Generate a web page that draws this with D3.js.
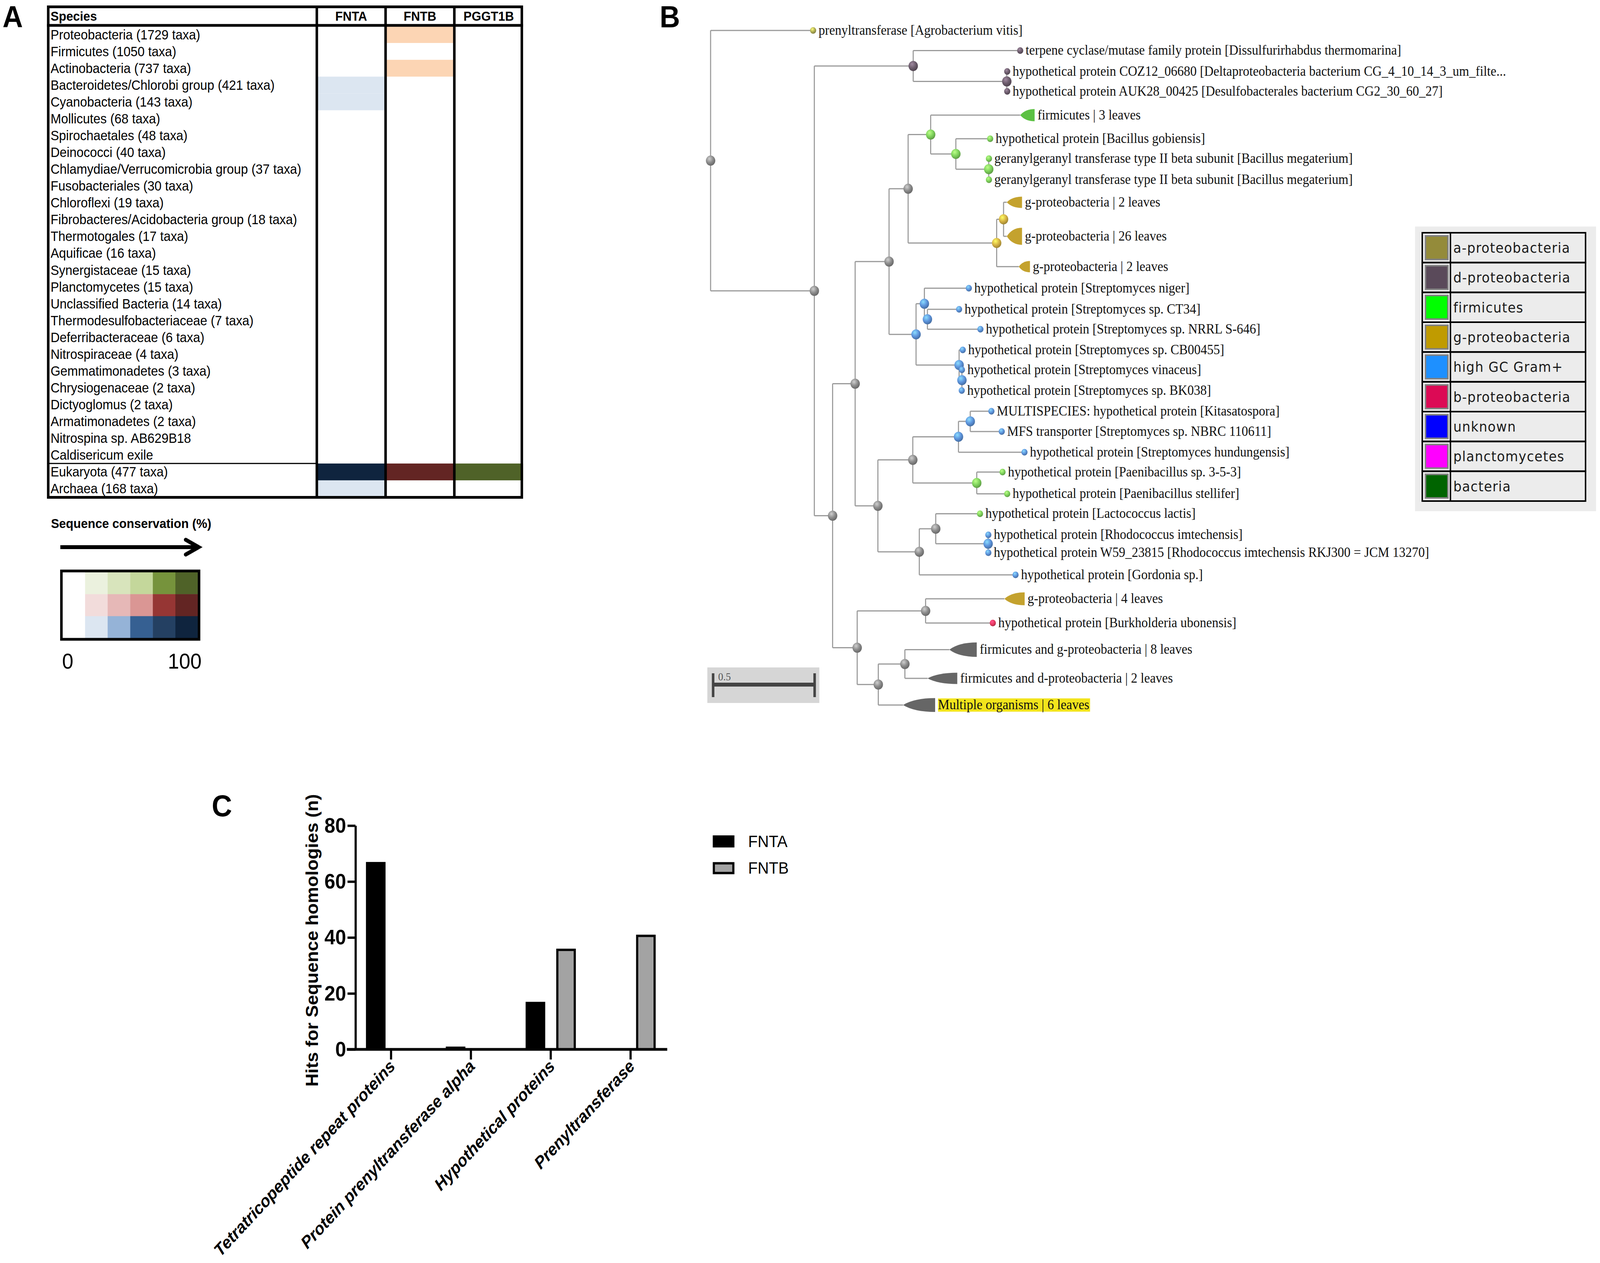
<!DOCTYPE html>
<html>
<head>
<meta charset="utf-8">
<script src="https://cdn.jsdelivr.net/npm/d3@7.9.0/dist/d3.min.js"></script>
<style>
  html, body { margin: 0; padding: 0; background: #fff; width: 100%; height: 100%; overflow: hidden; }
  svg { display: block; width: 100vw; height: 100vh; }
</style>
</head>
<body>
<svg id="fig" viewBox="0 0 4429 3234" preserveAspectRatio="none"></svg>
<script>
const SANS = "'Liberation Sans', Arial, sans-serif";
const SERIF = "'Liberation Serif', 'Times New Roman', serif";

// ---------- Panel A data ----------
const speciesRows = [
    'Proteobacteria (1729 taxa)', 'Firmicutes (1050 taxa)', 'Actinobacteria (737 taxa)',
    'Bacteroidetes/Chlorobi group (421 taxa)', 'Cyanobacteria (143 taxa)', 'Mollicutes (68 taxa)',
    'Spirochaetales (48 taxa)', 'Deinococci (40 taxa)', 'Chlamydiae/Verrucomicrobia group (37 taxa)',
    'Fusobacteriales (30 taxa)', 'Chloroflexi (19 taxa)', 'Fibrobacteres/Acidobacteria group (18 taxa)',
    'Thermotogales (17 taxa)', 'Aquificae (16 taxa)', 'Synergistaceae (15 taxa)', 'Planctomycetes (15 taxa)',
    'Unclassified Bacteria (14 taxa)', 'Thermodesulfobacteriaceae (7 taxa)', 'Deferribacteraceae (6 taxa)',
    'Nitrospiraceae (4 taxa)', 'Gemmatimonadetes (3 taxa)', 'Chrysiogenaceae (2 taxa)', 'Dictyoglomus (2 taxa)',
    'Armatimonadetes (2 taxa)', 'Nitrospina sp. AB629B18', 'Caldisericum exile',
    'Eukaryota (477 taxa)', 'Archaea (168 taxa)'
];
const genes = ['FNTA', 'FNTB', 'PGGT1B'];
// conservation level 0..5 per row
const consFNTA   = [0,0,0,1,1, 0,0,0,0,0, 0,0,0,0,0, 0,0,0,0,0, 0,0,0,0,0, 0, 5,1];
const consFNTB   = [1,0,1,0,0, 0,0,0,0,0, 0,0,0,0,0, 0,0,0,0,0, 0,0,0,0,0, 0, 5,0];
const consPGGT1B = [0,0,0,0,0, 0,0,0,0,0, 0,0,0,0,0, 0,0,0,0,0, 0,0,0,0,0, 0, 5,0];

const greenRamp = ['#ffffff', '#ebf1de', '#d8e4bc', '#c4d79b', '#76933c', '#4f6228'];
const redRamp   = ['#ffffff', '#f2dcdb', '#e6b8b7', '#da9694', '#963634', '#632523'];
const blueRamp  = ['#ffffff', '#dce6f1', '#95b3d7', '#366092', '#244062', '#0f243e'];
const fntbLight = '#fcd5b4';

// ---------- Panel B data ----------
const groupKeys   = ['a', 'd', 'f', 'g', 'gc', 'b', 'u', 'p', 'bac'];
const groupNames  = ['a-proteobacteria', 'd-proteobacteria', 'firmicutes', 'g-proteobacteria',
                     'high GC Gram+', 'b-proteobacteria', 'unknown', 'planctomycetes', 'bacteria'];
const groupColors = ['#948b3a', '#5a4a5a', '#00ff00', '#c09b00', '#1e90ff', '#dc0a55', '#0000ff', '#ff00ff', '#006400'];
const nodeColors  = { n: '#8c8c8c', a: '#b0ad55', d: '#6d5d6d', f: '#7fd35c', g: '#d6b344', gc: '#5e95dd', b: '#ea3a62' };
const wedgeColors = { n: '#666666', f: '#5cc143', g: '#c4a22e' };

// d = distance from root (substitutions/site), row = leaf row, span = collapsed clade depth
const treeData = { d: 0, g: 'n', children: [
    { d: 0.505, g: 'a', row: 0, label: 'prenyltransferase [Agrobacterium vitis]' },
    { d: 0.511, g: 'n', children: [
        { d: 0.998, g: 'd', children: [
            { d: 1.525, g: 'd', row: 0.98, label: 'terpene cyclase/mutase family protein [Dissulfurirhabdus thermomarina]' },
            { d: 1.459, g: 'd', children: [
                { d: 1.461, g: 'd', row: 2.0, label: 'hypothetical protein COZ12_06680 [Deltaproteobacteria bacterium CG_4_10_14_3_um_filte...' },
                { d: 1.461, g: 'd', row: 2.97, label: 'hypothetical protein AUK28_00425 [Desulfobacterales bacterium CG2_30_60_27]' }
            ] }
        ] },
        { d: 0.601, g: 'n', children: [
            { d: 0.712, g: 'n', children: [
                { d: 0.879, g: 'n', children: [
                    { d: 0.973, g: 'n', children: [
                        { d: 1.084, g: 'f', children: [
                            { d: 1.525, g: 'f', row: 4.13, leaves: 3, span: 0.071, label: 'firmicutes | 3 leaves' },
                            { d: 1.208, g: 'f', children: [
                                { d: 1.377, g: 'f', row: 5.28, label: 'hypothetical protein [Bacillus gobiensis]' },
                                { d: 1.370, g: 'f', children: [
                                    { d: 1.371, g: 'f', row: 6.25, label: 'geranylgeranyl transferase type II beta subunit [Bacillus megaterium]' },
                                    { d: 1.371, g: 'f', row: 7.28, label: 'geranylgeranyl transferase type II beta subunit [Bacillus megaterium]' }
                                ] }
                            ] }
                        ] },
                        { d: 1.409, g: 'g', children: [
                            { d: 1.443, g: 'g', children: [
                                { d: 1.459, g: 'g', row: 8.38, leaves: 2, span: 0.075, label: 'g-proteobacteria | 2 leaves' },
                                { d: 1.459, g: 'g', row: 10.04, leaves: 26, span: 0.075, label: 'g-proteobacteria | 26 leaves' }
                            ] },
                            { d: 1.518, g: 'g', row: 11.52, leaves: 2, span: 0.055, label: 'g-proteobacteria | 2 leaves' }
                        ] }
                    ] },
                    { d: 1.012, g: 'gc', children: [
                        { d: 1.053, g: 'gc', children: [
                            { d: 1.272, g: 'gc', row: 12.57, label: 'hypothetical protein [Streptomyces niger]' },
                            { d: 1.068, g: 'gc', children: [
                                { d: 1.224, g: 'gc', row: 13.6, label: 'hypothetical protein [Streptomyces sp. CT34]' },
                                { d: 1.329, g: 'gc', row: 14.57, label: 'hypothetical protein [Streptomyces sp. NRRL S-646]' }
                            ] }
                        ] },
                        { d: 1.224, g: 'gc', children: [
                            { d: 1.242, g: 'gc', row: 15.58, label: 'hypothetical protein [Streptomyces sp. CB00455]' },
                            { d: 1.238, g: 'gc', children: [
                                { d: 1.238, g: 'gc', row: 16.55, label: 'hypothetical protein [Streptomyces vinaceus]' },
                                { d: 1.237, g: 'gc', row: 17.56, label: 'hypothetical protein [Streptomyces sp. BK038]' }
                            ] }
                        ] }
                    ] }
                ] },
                { d: 0.824, g: 'n', children: [
                    { d: 0.996, g: 'n', children: [
                        { d: 1.221, g: 'gc', children: [
                            { d: 1.279, g: 'gc', children: [
                                { d: 1.383, g: 'gc', row: 18.57, label: 'MULTISPECIES: hypothetical protein [Kitasatospora]' },
                                { d: 1.434, g: 'gc', row: 19.56, label: 'MFS transporter [Streptomyces sp. NBRC 110611]' }
                            ] },
                            { d: 1.546, g: 'gc', row: 20.57, label: 'hypothetical protein [Streptomyces hundungensis]' }
                        ] },
                        { d: 1.311, g: 'f', children: [
                            { d: 1.438, g: 'f', row: 21.54, label: 'hypothetical protein [Paenibacillus sp. 3-5-3]' },
                            { d: 1.461, g: 'f', row: 22.6, label: 'hypothetical protein [Paenibacillus stellifer]' }
                        ] }
                    ] },
                    { d: 1.028, g: 'n', children: [
                        { d: 1.109, g: 'n', children: [
                            { d: 1.327, g: 'f', row: 23.57, label: 'hypothetical protein [Lactococcus lactis]' },
                            { d: 1.367, g: 'gc', children: [
                                { d: 1.368, g: 'gc', row: 24.6, label: 'hypothetical protein [Rhodococcus imtechensis]' },
                                { d: 1.368, g: 'gc', row: 25.47, label: 'hypothetical protein W59_23815 [Rhodococcus imtechensis RKJ300 = JCM 13270]' }
                            ] }
                        ] },
                        { d: 1.502, g: 'gc', row: 26.55, label: 'hypothetical protein [Gordonia sp.]' }
                    ] }
                ] }
            ] },
            { d: 0.722, g: 'n', children: [
                { d: 1.059, g: 'n', children: [
                    { d: 1.447, g: 'g', row: 27.72, leaves: 4, span: 0.1, label: 'g-proteobacteria | 4 leaves' },
                    { d: 1.390, g: 'b', row: 28.9, label: 'hypothetical protein [Burkholderia ubonensis]' }
                ] },
                { d: 0.826, g: 'n', children: [
                    { d: 0.957, g: 'n', children: [
                        { d: 1.176, g: 'n', row: 30.2, leaves: 8, span: 0.135, label: 'firmicutes and g-proteobacteria | 8 leaves' },
                        { d: 1.069, g: 'n', row: 31.6, leaves: 2, span: 0.146, label: 'firmicutes and d-proteobacteria | 2 leaves' }
                    ] },
                    { d: 0.948, g: 'n', row: 32.9, leaves: 6, span: 0.158, label: 'Multiple organisms | 6 leaves', highlight: true }
                ] }
            ] }
        ] }
    ] }
] };

// ---------- Panel C data ----------
const hitCategories = ['Tetratricopeptide repeat proteins', 'Protein prenyltransferase alpha', 'Hypothetical proteins', 'Prenyltransferase'];
const hitSeries = ['FNTA', 'FNTB'];
const hitsFNTA = [67, 1, 17, 0];
const hitsFNTB = [0, 0, 36, 41];
const hitTicks = [0, 20, 40, 60, 80];

const svg = d3.select('#fig');
svg.append('rect').attr('width', 4429).attr('height', 3234).attr('fill', '#fff');

// panel letters
[['A', 7, 70], ['B', 1826, 70], ['C', 586, 2090]].forEach(([t, x, y]) => {
    svg.append('text').attr('x', x).attr('y', y).text(t)
        .attr('font-family', SANS).attr('font-weight', 'bold').attr('font-size', 78);
});

// ================= Panel A =================
function renderTable() {
    const g = svg.append('g');
    const yA = d3.scaleBand().domain(d3.range(speciesRows.length)).range([67, 1273]);
    const xA = d3.scaleBand().domain(genes).range([877, 1448]);
    const ramps = { FNTA: blueRamp, FNTB: [redRamp[0], fntbLight, ...redRamp.slice(2)], PGGT1B: greenRamp };
    const levels = { FNTA: consFNTA, FNTB: consFNTB, PGGT1B: consPGGT1B };

    genes.forEach(gene => {
        g.append('g').selectAll('rect')
            .data(levels[gene].map((v, i) => ({ v, i })).filter(d => d.v > 0))
            .join('rect')
            .attr('x', xA(gene))
            .attr('y', d => yA(d.i))
            .attr('width', xA.bandwidth())
            .attr('height', yA.bandwidth())
            .attr('fill', d => ramps[gene][d.v]);
    });

    g.append('g').selectAll('text')
        .data(speciesRows)
        .join('text')
        .attr('x', 140)
        .attr('y', (d, i) => yA(i) + yA.bandwidth() / 2 + 12)
        .attr('font-family', SANS).attr('font-size', 35)
        .text(d => d);

    // header
    g.append('text').attr('x', 140).attr('y', 53).text('Species')
        .attr('font-family', SANS).attr('font-weight', 'bold').attr('font-size', 34);
    g.append('g').selectAll('text')
        .data(genes)
        .join('text')
        .attr('x', d => xA(d) + xA.bandwidth() / 2)
        .attr('y', 53)
        .attr('text-anchor', 'middle')
        .attr('font-family', SANS).attr('font-weight', 'bold').attr('font-size', 34)
        .text(d => d);

    // grid lines
    g.append('line').attr('x1', 133).attr('x2', xA(genes[0])).attr('y1', yA(26)).attr('y2', yA(26))
        .attr('stroke', '#000').attr('stroke-width', 3);
    g.append('line').attr('x1', 130).attr('x2', 1448).attr('y1', 65).attr('y2', 65)
        .attr('stroke', '#000').attr('stroke-width', 7);
    g.append('g').selectAll('line')
        .data(genes)
        .join('line')
        .attr('x1', d => xA(d)).attr('x2', d => xA(d))
        .attr('y1', 14).attr('y2', 1276)
        .attr('stroke', '#000').attr('stroke-width', 7);
    g.append('rect').attr('x', 133.5).attr('y', 17.5).attr('width', 1311).attr('height', 1256)
        .attr('fill', 'none').attr('stroke', '#000').attr('stroke-width', 7);

    // conservation legend
    g.append('text').attr('x', 141).attr('y', 1352).text('Sequence conservation (%)')
        .attr('font-family', SANS).attr('font-weight', 'bold').attr('font-size', 34);
    g.append('line').attr('x1', 167).attr('x2', 548).attr('y1', 1401).attr('y2', 1401)
        .attr('stroke', '#000').attr('stroke-width', 10);
    g.append('path').attr('d', 'M514,1382 L550,1401 L514,1420')
        .attr('fill', 'none').attr('stroke', '#000').attr('stroke-width', 10).attr('stroke-linecap', 'round');

    const legendRamps = [greenRamp, redRamp, blueRamp];
    const lx = d3.scaleBand().domain(d3.range(6)).range([173, 548]);
    const ly = d3.scaleBand().domain(d3.range(3)).range([1465, 1634]);
    legendRamps.forEach((ramp, r) => {
        g.append('g').selectAll('rect')
            .data(ramp)
            .join('rect')
            .attr('x', (d, i) => lx(i))
            .attr('y', ly(r))
            .attr('width', lx.bandwidth() + 0.5)
            .attr('height', ly.bandwidth() + 0.5)
            .attr('fill', d => d);
    });
    g.append('rect').attr('x', 170).attr('y', 1462).attr('width', 381).attr('height', 175)
        .attr('fill', 'none').attr('stroke', '#000').attr('stroke-width', 7);
    g.append('text').attr('x', 172).attr('y', 1712).text('0')
        .attr('font-family', SANS).attr('font-size', 56);
    g.append('text').attr('x', 558).attr('y', 1712).attr('text-anchor', 'end').text('100')
        .attr('font-family', SANS).attr('font-size', 56);
}

// ================= Panel B =================
function renderTree() {
    const g = svg.append('g');
    const xT = d3.scaleLinear().domain([0, 0.5]).range([1967, 2248]);
    const yT = d3.scaleLinear().domain([0, 1]).range([78, 130.5]);

    const root = d3.hierarchy(treeData);
    root.eachAfter(n => {
        n.px = xT(n.data.d);
        if (n.children) {
            n.py = (n.children[0].py + n.children[n.children.length - 1].py) / 2;
        } else {
            n.py = yT(n.data.row);
        }
    });

    // sphere gradients
    const defs = svg.append('defs');
    Object.entries(nodeColors).forEach(([k, c]) => {
        const grad = defs.append('radialGradient').attr('id', 'sph-' + k)
            .attr('cx', '38%').attr('cy', '32%').attr('r', '70%');
        grad.append('stop').attr('offset', '0%').attr('stop-color', d3.color(c).brighter(1.1));
        grad.append('stop').attr('offset', '55%').attr('stop-color', c);
        grad.append('stop').attr('offset', '100%').attr('stop-color', d3.color(c).darker(0.9));
    });

    // branches (rectangular)
    const links = g.append('g').attr('fill', 'none').attr('stroke', '#9a9a9a').attr('stroke-width', 3);
    root.descendants().filter(n => n.children).forEach(n => {
        const ys = n.children.map(c => c.py);
        links.append('line').attr('x1', n.px).attr('x2', n.px)
            .attr('y1', d3.min(ys)).attr('y2', d3.max(ys));
        n.children.forEach(c => {
            links.append('line').attr('x1', n.px).attr('x2', c.px).attr('y1', c.py).attr('y2', c.py);
        });
    });

    // collapsed clades
    const wedges = root.leaves().filter(n => n.data.leaves);
    g.append('g').selectAll('path')
        .data(wedges)
        .join('path')
        .attr('d', n => {
            const w = xT(n.data.d + n.data.span) - n.px;
            const h = 25 + 4 * Math.log2(n.data.leaves);
            const x0 = n.px, y0 = n.py;
            return `M${x0},${y0} Q${x0 + w * 0.35},${y0 - h / 2} ${x0 + w},${y0 - h / 2} ` +
                `L${x0 + w},${y0 + h / 2} Q${x0 + w * 0.35},${y0 + h / 2} ${x0},${y0} Z`;
        })
        .attr('fill', n => wedgeColors[n.data.g]);

    // nodes
    g.append('g').selectAll('circle')
        .data(root.descendants().filter(n => !n.data.leaves))
        .join('circle')
        .attr('cx', n => n.px)
        .attr('cy', n => n.py)
        .attr('r', n => n.children ? 13 : 8.5)
        .attr('fill', n => `url(#sph-${n.data.g})`);

    // labels
    const labelX = n => n.data.leaves ? xT(n.data.d + n.data.span) + 8 : n.px + 15;
    const labels = g.append('g').selectAll('text')
        .data(root.leaves())
        .join('text')
        .attr('x', labelX)
        .attr('y', n => n.py + 11)
        .attr('font-family', SERIF).attr('font-size', 35.7)
        .attr('fill', '#111')
        .text(n => n.data.label);
    labels.filter(n => n.data.highlight).each(function (n) {
        const bb = this.getBBox();
        d3.select(this.parentNode).insert('rect', 'text')
            .attr('x', bb.x).attr('y', n.py - 17).attr('width', bb.width + 2).attr('height', 34)
            .attr('fill', '#f2e41c');
    });

    // scale bar
    const sb = g.append('g');
    sb.append('rect').attr('x', 1958).attr('y', 1709).attr('width', 310).attr('height', 91).attr('fill', '#d6d6d6');
    const bx0 = 1974, bx1 = bx0 + xT(0.5) - xT(0);
    sb.append('line').attr('x1', bx0).attr('x2', bx1).attr('y1', 1753).attr('y2', 1753)
        .attr('stroke', '#444').attr('stroke-width', 10);
    [bx0, bx1].forEach(x => sb.append('line').attr('x1', x).attr('x2', x).attr('y1', 1724).attr('y2', 1785)
        .attr('stroke', '#444').attr('stroke-width', 7));
    sb.append('text').attr('x', 1988).attr('y', 1742).text('0.5')
        .attr('font-family', SERIF).attr('font-size', 28).attr('fill', '#555');

    // group legend
    const lg = g.append('g');
    lg.append('rect').attr('x', 3917).attr('y', 580).attr('width', 501).attr('height', 729).attr('fill', '#ececec');
    const ly = d3.scaleBand().domain(groupKeys).range([596, 1283]);
    const rowsG = lg.selectAll('g.row')
        .data(groupKeys)
        .join('g')
        .attr('transform', d => `translate(0,${ly(d)})`);
    rowsG.append('rect').attr('x', 3937).attr('y', 0).attr('width', 452).attr('height', ly.bandwidth())
        .attr('fill', 'none').attr('stroke', '#000').attr('stroke-width', 4);
    rowsG.append('line').attr('x1', 4015).attr('x2', 4015).attr('y1', 0).attr('y2', ly.bandwidth())
        .attr('stroke', '#000').attr('stroke-width', 4);
    rowsG.append('rect').attr('x', 3946).attr('y', 8).attr('width', 62).attr('height', ly.bandwidth() - 16)
        .attr('fill', (d, i) => groupColors[i]).attr('stroke', '#808080').attr('stroke-width', 4);
    rowsG.append('text').attr('x', 4023).attr('y', ly.bandwidth() / 2 + 13)
        .attr('font-family', "'DejaVu Sans', Verdana, sans-serif").attr('font-size', 36)
        .attr('letter-spacing', 1.5).attr('fill', '#1a1a1a')
        .text((d, i) => groupNames[i]);
}

// ================= Panel C =================
function renderBars() {
    const g = svg.append('g');
    const yC = d3.scaleLinear().domain([0, 80]).range([2687, 2114]);
    const xC = d3.scaleBand().domain(hitCategories).range([972, 1856]);
    const xSub = d3.scaleBand().domain(hitSeries).range([41, 180]).paddingInner(0.36);
    const values = { FNTA: hitsFNTA, FNTB: hitsFNTB };
    const fills = { FNTA: '#000000', FNTB: '#a3a3a3' };
    const axisX = 984;

    hitSeries.forEach(s => {
        g.append('g').selectAll('rect')
            .data(hitCategories.map((c, i) => ({ c, v: values[s][i] })).filter(d => d.v > 0))
            .join('rect')
            .attr('x', d => xC(d.c) + xSub(s) + 3)
            .attr('y', d => yC(d.v) + 3)
            .attr('width', xSub.bandwidth() - 6)
            .attr('height', d => yC(0) - yC(d.v) - 3)
            .attr('fill', fills[s])
            .attr('stroke', '#000').attr('stroke-width', 6);
    });

    // y axis
    const yAxis = g.append('g')
        .attr('transform', `translate(${axisX},0)`)
        .call(d3.axisLeft(yC).tickValues(hitTicks).tickSize(22).tickPadding(4).tickSizeOuter(0));
    yAxis.select('.domain').attr('stroke-width', 6);
    yAxis.selectAll('.tick line').attr('stroke-width', 6);
    yAxis.selectAll('.tick text').attr('font-family', SANS).attr('font-weight', 'bold').attr('font-size', 54);

    // x axis
    const xAxis = g.append('g')
        .attr('transform', `translate(0,${yC(0)})`)
        .call(d3.axisBottom(xC).tickSize(26).tickSizeOuter(0).tickFormat(''));
    xAxis.select('.domain').remove();
    xAxis.selectAll('.tick line').attr('stroke-width', 6);
    g.append('line').attr('x1', axisX - 24).attr('x2', 1847).attr('y1', yC(0)).attr('y2', yC(0))
        .attr('stroke', '#000').attr('stroke-width', 7);

    g.append('g').selectAll('text')
        .data(hitCategories)
        .join('text')
        .attr('transform', d => `translate(${xC(d) + xC.bandwidth() / 2 + 14},${yC(0) + 46}) rotate(-45)`)
        .attr('text-anchor', 'end')
        .attr('font-family', SANS).attr('font-weight', 'bold').attr('font-style', 'italic').attr('font-size', 44)
        .text(d => d);

    g.append('text')
        .attr('transform', 'translate(880,2408) rotate(-90)')
        .attr('text-anchor', 'middle')
        .attr('font-family', SANS).attr('font-weight', 'bold').attr('font-size', 47)
        .text('Hits for Sequence homologies (n)');

    // legend
    const lgY = d3.scaleBand().domain(hitSeries).range([2125, 2262]);
    const lg = g.append('g').selectAll('g')
        .data(hitSeries)
        .join('g')
        .attr('transform', d => `translate(0,${lgY(d)})`);
    lg.append('rect').attr('x', 1976).attr('y', 17).attr('width', 54).attr('height', 25)
        .attr('fill', d => fills[d]).attr('stroke', '#000').attr('stroke-width', 6);
    lg.append('text').attr('x', 2071).attr('y', 44)
        .attr('font-family', SANS).attr('font-size', 43)
        .text(d => d);
}

renderTable();
renderTree();
renderBars();
</script>
</body>
</html>
